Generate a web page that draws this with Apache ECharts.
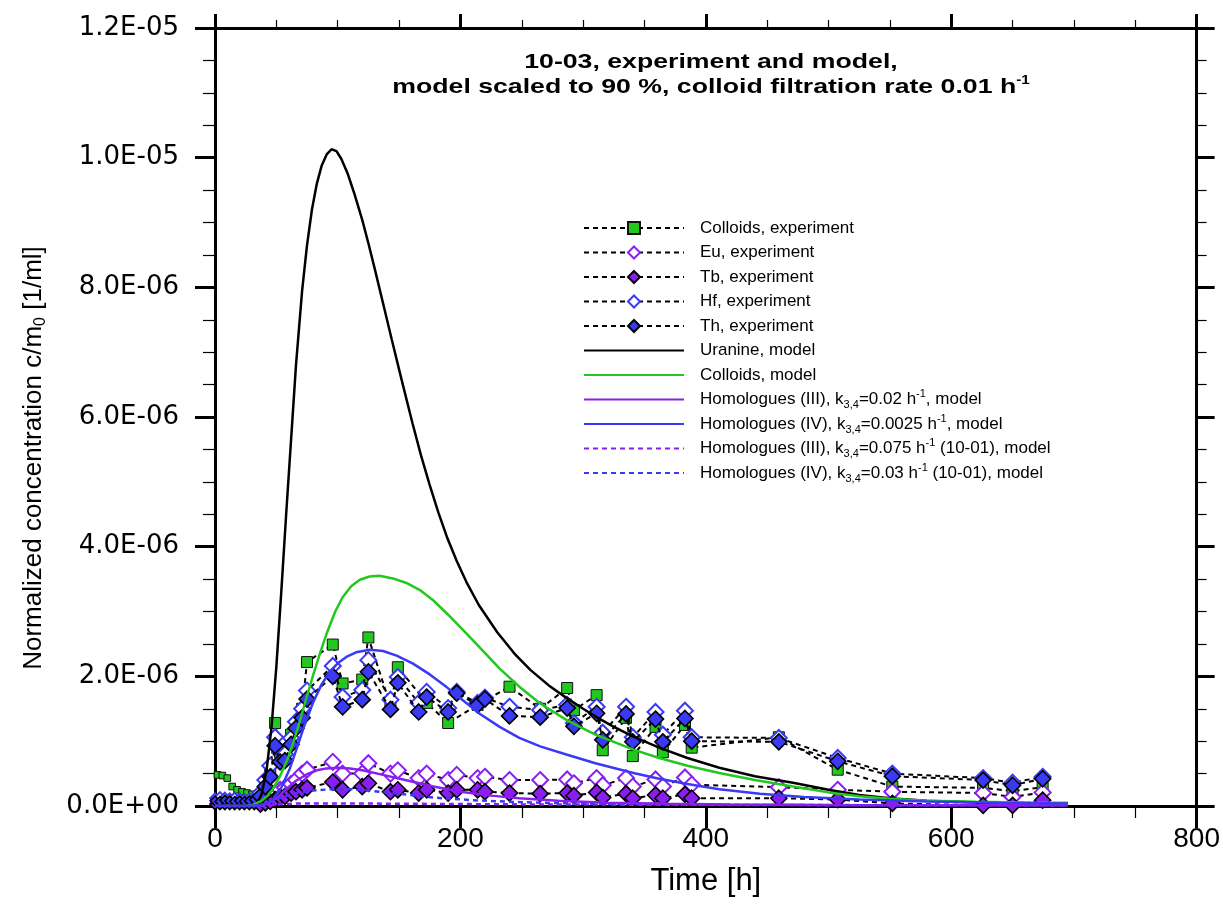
<!DOCTYPE html>
<html>
<head>
<meta charset="utf-8">
<script src="https://cdn.jsdelivr.net/npm/echarts@6/dist/echarts.min.js"></script>
<style>html,body{margin:0;padding:0;background:#fff}#c{width:1223px;height:922px}</style>
</head>
<body>
<div id="c"></div>
<script>
// ---- Data (concentration in units of 1E-06 1/ml, time in h) ----
const xTicks = [0, 200, 400, 600, 800];
const yTicks = [0, 2, 4, 6, 8, 10, 12];

// model curves
const uranineT = [0,10,20,25,30,34,38,42,46,50,54,58,62,66,71,75,79,83,87,91,95,99,103,108,114,120,125,130,137,144,152,161,168,175,182,189,197,205,215,230,245,257,272,287,300,311,325,341,362,385,411,440,471,500,525,550,580,620,660,695];
const uranineV = [0,0,0,0.005,0.01,0.04,0.18,0.55,1.2,2.15,3.3,4.5,5.65,6.8,7.95,8.65,9.2,9.6,9.88,10.05,10.13,10.1,9.98,9.76,9.42,9.04,8.68,8.3,7.75,7.2,6.58,5.9,5.4,4.95,4.53,4.15,3.78,3.45,3.1,2.68,2.33,2.1,1.86,1.66,1.5,1.37,1.22,1.07,0.9,0.74,0.59,0.46,0.36,0.25,0.17,0.12,0.08,0.055,0.045,0.04];

const colModT = [0,25,31,38,43,47,53,59.5,64,69,75,80,86,91,98,104,111,118,126,134,145,156,167,178,190,205,218,232,248,265,287,310,341,362,385,411,440,471,500,525,550,580,620,660,695];
const colModV = [0,0,0.02,0.08,0.16,0.26,0.46,0.74,0.99,1.3,1.7,2.02,2.38,2.66,3.0,3.22,3.39,3.49,3.54,3.55,3.51,3.44,3.33,3.17,2.95,2.66,2.4,2.12,1.84,1.58,1.32,1.1,0.87,0.74,0.62,0.51,0.4,0.3,0.21,0.15,0.11,0.08,0.065,0.055,0.05];

const homIIIT = [0,35,42,50,58,66,75,83,91,100,110,120,137,155,178,200,225,248,280,320,370,420,500,600,695];
const homIIIV = [0,0,0.03,0.12,0.26,0.39,0.49,0.55,0.58,0.59,0.58,0.55,0.48,0.4,0.3,0.22,0.16,0.12,0.08,0.05,0.035,0.025,0.015,0.01,0.01];

const homIVT = [0,28,35,40,47,54,61,66.5,73,80,87,94,100,107,115,126,137,148,161,175,189,202,216,232,248,265,287,310,341,362,385,411,444,480,525,580,640,695];
const homIVV = [0,0,0.01,0.03,0.1,0.28,0.58,0.88,1.25,1.6,1.88,2.08,2.2,2.3,2.37,2.41,2.39,2.32,2.2,2.03,1.83,1.63,1.42,1.22,1.05,0.92,0.79,0.66,0.51,0.42,0.34,0.26,0.19,0.14,0.1,0.07,0.05,0.04];

const homIII01T = [0,35,45,55,70,100,150,250,350,450,695];
const homIII01V = [0,0,0.01,0.03,0.04,0.04,0.035,0.025,0.02,0.015,0.01];

const homIV01T = [0,35,42,50,60,69,80,96,110,124,150,178,210,248,300,400,500,695];
const homIV01V = [0,0,0.03,0.1,0.17,0.21,0.24,0.26,0.26,0.24,0.19,0.13,0.09,0.06,0.035,0.02,0.012,0.01];

// experiments
const colExpT = [2,6,10,14,18,22,26,30,41,45,49,53,62,71,75,96,104,120,125,143,149,172.5,190,214,240,265,287,292.5,311,316,335,340.5,359,365,383,388.5,459.5,507.5,552,626,650,674.5];
const colExpV = [0.48,0.47,0.43,0.3,0.25,0.22,0.2,0.18,0.35,0.5,1.28,0.83,1.1,1.5,2.22,2.49,1.89,1.95,2.6,1.55,2.14,1.59,1.28,1.56,1.84,1.5,1.82,1.48,1.71,0.86,1.36,0.77,1.22,0.83,1.25,0.9,1.06,0.56,0.3,0.28,0.23,0.29];

const homExpT = [0,4,8,12,16,20,24,28,32,37,41,45,49,53,57,62,66,71,75,96,104,120,125,143,149,166,172.5,190,197,214,220,240,265,287,292.5,311,316,335,340.5,359,365,383,388.5,459.5,507.5,552,626,650,674.5];
const euV = [0.04,0.05,0.04,0.04,0.05,0.04,0.04,0.05,0.05,0.06,0.1,0.14,0.2,0.25,0.28,0.34,0.4,0.5,0.56,0.68,0.5,0.5,0.66,0.5,0.55,0.43,0.5,0.4,0.48,0.43,0.45,0.4,0.4,0.41,0.35,0.43,0.32,0.43,0.3,0.41,0.3,0.44,0.33,0.29,0.25,0.22,0.2,0.14,0.21];
const tbV = [0.02,0.02,0.02,0.02,0.02,0.02,0.02,0.02,0.02,0.03,0.05,0.07,0.1,0.14,0.15,0.2,0.22,0.25,0.28,0.37,0.25,0.3,0.35,0.22,0.25,0.2,0.25,0.2,0.25,0.25,0.22,0.2,0.19,0.2,0.16,0.21,0.13,0.19,0.12,0.17,0.12,0.18,0.12,0.12,0.1,0.04,0.01,0.01,0.09];
const hfV = [0.12,0.14,0.13,0.12,0.13,0.12,0.11,0.12,0.13,0.2,0.4,0.62,1.06,0.85,0.8,1.05,1.3,1.5,1.78,2.16,1.68,1.79,2.25,1.64,1.99,1.59,1.76,1.51,1.76,1.59,1.67,1.53,1.48,1.56,1.28,1.53,1.13,1.53,1.06,1.45,1.1,1.47,1.06,1.05,0.74,0.5,0.43,0.36,0.45];
const thV = [0.08,0.07,0.09,0.08,0.07,0.08,0.07,0.08,0.1,0.15,0.3,0.45,0.93,0.68,0.7,0.95,1.2,1.36,1.65,2.0,1.53,1.64,2.07,1.49,1.9,1.45,1.68,1.45,1.74,1.56,1.65,1.39,1.37,1.51,1.23,1.43,1.02,1.42,0.99,1.34,0.99,1.35,1.0,0.99,0.69,0.46,0.4,0.32,0.42];

const zip = (t, v) => t.map((x, i) => [x, v[i]]);

const GREEN = '#22c81e', PURPLE = '#8a1ef0', BLUE = '#3a3af5';
const FONT = "'Liberation Sans', Arial, sans-serif";

function sci(v) {
  const x = v * 1e-6;
  if (Math.abs(x) < 1e-20) return '0.0E+00';
  let e = Math.floor(Math.log10(Math.abs(x)) + 1e-9);
  let m = x / Math.pow(10, e);
  const sign = e < 0 ? '-' : '+';
  const ee = String(Math.abs(e)).padStart(2, '0');
  return m.toFixed(1) + 'E' + sign + ee;
}

const legendRich = {
  'Colloids, experiment': '{t|Colloids, experiment}',
  'Eu, experiment': '{t|Eu, experiment}',
  'Tb, experiment': '{t|Tb, experiment}',
  'Hf, experiment': '{t|Hf, experiment}',
  'Th, experiment': '{t|Th, experiment}',
  'Uranine, model': '{t|Uranine, model}',
  'Colloids, model': '{t|Colloids, model}',
  'Homologues (III), k3,4=0.02 h-1, model': '{t|Homologues (III), k}{sub|3,4}{t|=0.02 h}{sup|-1}{t|, model}',
  'Homologues (IV), k3,4=0.0025 h-1, model': '{t|Homologues (IV), k}{sub|3,4}{t|=0.0025 h}{sup|-1}{t|, model}',
  'Homologues (III), k3,4=0.075 h-1 (10-01), model': '{t|Homologues (III), k}{sub|3,4}{t|=0.075 h}{sup|-1}{t| (10-01), model}',
  'Homologues (IV), k3,4=0.03 h-1 (10-01), model': '{t|Homologues (IV), k}{sub|3,4}{t|=0.03 h}{sup|-1}{t| (10-01), model}'
};

const expLine = { color: '#000', width: 2, type: [5, 4] };
const smallFirst = (n, big, small) => (val, p) => (p.dataIndex < n ? small : big);

function expSeries(name, t, v, symbol, size, itemStyle, z, nSmall) {
  return {
    name, type: 'line', data: zip(t, v), symbol, symbolSize: smallFirst(nSmall, size, size * 0.6),
    showAllSymbol: true, itemStyle, lineStyle: expLine, z, smooth: false
  };
}
function modelSeries(name, t, v, color, type, z) {
  return {
    name, type: 'line', data: zip(t, v), symbol: 'none', showSymbol: false,
    lineStyle: { color, width: 2.5, type }, itemStyle: { color, opacity: 0 }, smooth: false, z
  };
}

const series = [
  expSeries('Colloids, experiment', colExpT, colExpV, 'rect', 11, { color: GREEN, borderColor: '#111', borderWidth: 1 }, 2, 8),
  expSeries('Eu, experiment', homExpT, euV, 'diamond', 16, { color: '#fff', borderColor: PURPLE, borderWidth: 2 }, 3, 9),
  expSeries('Tb, experiment', homExpT, tbV, 'diamond', 16, { color: PURPLE, borderColor: '#000', borderWidth: 1.6 }, 4, 9),
  expSeries('Hf, experiment', homExpT, hfV, 'diamond', 16, { color: '#fff', borderColor: BLUE, borderWidth: 2 }, 5, 9),
  expSeries('Th, experiment', homExpT, thV, 'diamond', 16, { color: BLUE, borderColor: '#000', borderWidth: 1.6 }, 6, 9),
  modelSeries('Uranine, model', uranineT, uranineV, '#000', 'solid', 10),
  modelSeries('Colloids, model', colModT, colModV, GREEN, 'solid', 10),
  modelSeries('Homologues (III), k3,4=0.02 h-1, model', homIIIT, homIIIV, PURPLE, 'solid', 10),
  modelSeries('Homologues (IV), k3,4=0.0025 h-1, model', homIVT, homIVV, BLUE, 'solid', 10),
  modelSeries('Homologues (III), k3,4=0.075 h-1 (10-01), model', homIII01T, homIII01V, PURPLE, [5, 4], 9),
  modelSeries('Homologues (IV), k3,4=0.03 h-1 (10-01), model', homIV01T, homIV01V, BLUE, [5, 4], 9)
];

const axisLine = { show: true, onZero: false, lineStyle: { color: '#000', width: 3 } };
const chart = echarts.init(document.getElementById('c'), null, { renderer: 'canvas' });
chart.setOption({
  animation: false,
  backgroundColor: '#fff',
  grid: { left: 215, right: 26, top: 28, bottom: 116, containLabel: false },
  graphic: [{
    type: 'text', x: 711, y: 50, z: 100, scaleX: 1.27,
    style: {
      text: '{b|10-03, experiment and model,}\n{b|model scaled to 90 %, colloid filtration rate 0.01 h}{bs|-1}',
      align: 'center', verticalAlign: 'top',
      rich: {
        b: { fontFamily: FONT, fontWeight: 'bold', fontSize: 21, lineHeight: 25, fill: '#000' },
        bs: { fontFamily: FONT, fontWeight: 'bold', fontSize: 12, lineHeight: 13, verticalAlign: 'top', fill: '#000' }
      }
    }
  }],
  legend: {
    orient: 'vertical', left: 578, top: 212, itemWidth: 100, itemHeight: 15, itemGap: 2.5,
    selectedMode: false,
    data: series.map(s => s.name),
    formatter: name => legendRich[name],
    textStyle: {
      padding: [0, 0, 0, 11], lineHeight: 22,
      rich: {
        t: { fontFamily: FONT, fontSize: 17, lineHeight: 22, color: '#000' },
        sub: { fontFamily: FONT, fontSize: 11, lineHeight: 10, verticalAlign: 'bottom', color: '#000' },
        sup: { fontFamily: FONT, fontSize: 11, lineHeight: 12, verticalAlign: 'top', color: '#000' }
      }
    }
  },
  xAxis: [{
    type: 'value', min: xTicks[0], max: xTicks[xTicks.length - 1], interval: 200,
    position: 'bottom', axisLine,
    axisTick: { show: true, length: 22, lineStyle: { color: '#000', width: 3 } },
    minorTick: { show: true, splitNumber: 4, length: 12, lineStyle: { color: '#000', width: 1.2 } },
    splitLine: { show: false },
    axisLabel: { margin: 19, fontFamily: FONT, fontSize: 28, color: '#000' },
    name: 'Time [h]', nameLocation: 'middle', nameGap: 60,
    nameTextStyle: { fontFamily: FONT, fontSize: 31, color: '#000' }
  }, {
    type: 'value', min: xTicks[0], max: xTicks[xTicks.length - 1], interval: 200,
    position: 'top', axisLine,
    axisTick: { show: true, length: 14, lineStyle: { color: '#000', width: 3 } },
    minorTick: { show: true, splitNumber: 4, length: 8, lineStyle: { color: '#000', width: 1.2 } },
    splitLine: { show: false }, axisLabel: { show: false }
  }],
  yAxis: [{
    type: 'value', min: yTicks[0], max: yTicks[yTicks.length - 1], interval: 2,
    position: 'left', axisLine,
    axisTick: { show: true, length: 20, lineStyle: { color: '#000', width: 3 } },
    minorTick: { show: true, splitNumber: 4, length: 12, lineStyle: { color: '#000', width: 1.2 } },
    splitLine: { show: false },
    axisLabel: { margin: 36, fontFamily: "'DejaVu Sans', sans-serif", fontSize: 26, color: '#000', formatter: sci },
    name: '{t|Normalized concentration c/m}{s|0}{t| [1/ml]}', nameLocation: 'middle', nameGap: 166,
    nameTextStyle: {
      padding: [0, 82, 0, 0],
      rich: {
        t: { fontFamily: FONT, fontSize: 26, lineHeight: 30, color: '#000' },
        s: { fontFamily: FONT, fontSize: 16, lineHeight: 10, verticalAlign: 'bottom', color: '#000' }
      }
    }
  }, {
    type: 'value', min: yTicks[0], max: yTicks[yTicks.length - 1], interval: 2,
    position: 'right', axisLine,
    axisTick: { show: true, length: 18, lineStyle: { color: '#000', width: 3 } },
    minorTick: { show: true, splitNumber: 4, length: 10, lineStyle: { color: '#000', width: 1.2 } },
    splitLine: { show: false }, axisLabel: { show: false }
  }],
  series
});
</script>
</body>
</html>
